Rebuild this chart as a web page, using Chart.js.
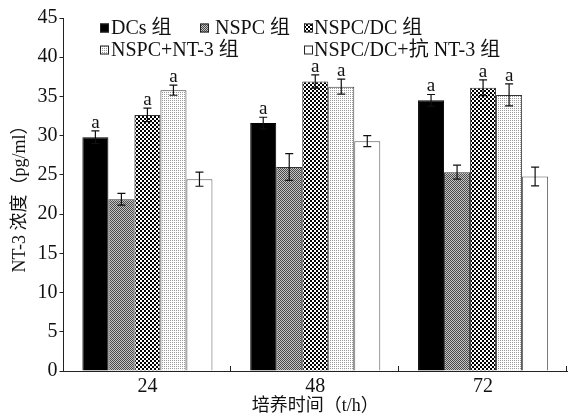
<!DOCTYPE html>
<html>
<head>
<meta charset="utf-8">
<script src="https://cdn.jsdelivr.net/npm/chart.js@4.4.0/dist/chart.umd.min.js"></script>
<style>
  html, body { margin: 0; padding: 0; background: #fff; }
  #wrap { width: 568px; height: 417px; }
</style>
</head>
<body>
<div id="wrap"><canvas id="myChart" width="568" height="417"></canvas></div>
<script>
// culture time (h)
const categories = ['24', '48', '72'];

// NT-3 concentration (pg/ml), mean and error
const dcs = [29.8, 31.6, 34.5];
const dcsErr = [0.8, 0.75, 0.75];
const nspc = [21.9, 26.0, 25.35];
const nspcErr = [0.75, 1.7, 0.9];
const nspcDc = [32.65, 36.9, 36.1];
const nspcDcErr = [0.85, 0.85, 1.0];
const nspcNt3 = [35.8, 36.25, 35.2];
const nspcNt3Err = [0.65, 0.95, 1.4];
const antiNt3 = [24.45, 29.3, 24.8];
const antiNt3Err = [0.9, 0.7, 1.2];

// significance marks above bars
const dcsMark = ['a', 'a', 'a'];
const nspcMark = ['', '', ''];
const nspcDcMark = ['a', 'a', 'a'];
const nspcNt3Mark = ['a', 'a', 'a'];
const antiNt3Mark = ['', '', ''];

const yTicks = [0, 5, 10, 15, 20, 25, 30, 35, 40, 45];

const serif = "'Liberation Serif', 'Noto Sans CJK SC', serif";

document.addEventListener('DOMContentLoaded', () => {
    const ctx = document.getElementById('myChart').getContext('2d');

    function makePattern(size, draw) {
        const c = document.createElement('canvas');
        c.width = size;
        c.height = size;
        const g = c.getContext('2d');
        draw(g);
        return ctx.createPattern(c, 'repeat');
    }

    const grayChecker = makePattern(2, g => {
        g.fillStyle = '#c4c4c4';
        g.fillRect(0, 0, 2, 2);
        g.fillStyle = '#4a4a4a';
        g.fillRect(0, 0, 1, 1);
        g.fillRect(1, 1, 1, 1);
    });
    const bwChecker = makePattern(4, g => {
        g.fillStyle = '#000';
        g.fillRect(0, 0, 4, 4);
        g.fillStyle = '#fff';
        g.fillRect(0, 0, 2, 2);
        g.fillRect(2, 2, 2, 2);
    });
    const lightDots = makePattern(2, g => {
        g.fillStyle = '#fff';
        g.fillRect(0, 0, 2, 2);
        g.fillStyle = '#999';
        g.fillRect(0, 0, 1, 1);
    });

    // error bars and "a" marks
    const errorBars = {
        id: 'errorBars',
        afterDatasetsDraw(chart) {
            const c = chart.ctx;
            const y = chart.scales.y;
            c.save();
            c.strokeStyle = '#111';
            c.lineWidth = 1.2;
            c.fillStyle = '#111';
            c.font = '19px ' + serif;
            c.textAlign = 'center';
            c.textBaseline = 'alphabetic';
            chart.data.datasets.forEach((ds, i) => {
                const meta = chart.getDatasetMeta(i);
                meta.data.forEach((bar, j) => {
                    const v = ds.data[j];
                    const e = ds.errors[j];
                    const top = y.getPixelForValue(v + e);
                    const bot = y.getPixelForValue(v - e);
                    const x = bar.x;
                    c.beginPath();
                    c.moveTo(x, top);
                    c.lineTo(x, bot);
                    c.moveTo(x - 4, top);
                    c.lineTo(x + 4, top);
                    c.moveTo(x - 4, bot);
                    c.lineTo(x + 4, bot);
                    c.stroke();
                    if (ds.marks[j]) {
                        c.fillText(ds.marks[j], x, top - 3);
                    }
                });
            });
            c.restore();
        }
    };

    // inward tick marks on the x axis between groups
    const xInnerTicks = {
        id: 'xInnerTicks',
        afterDraw(chart) {
            const x = chart.scales.x;
            const c = chart.ctx;
            const n = chart.data.labels.length;
            c.save();
            c.strokeStyle = '#222';
            c.lineWidth = 1;
            for (let i = 1; i <= n; i++) {
                const px = Math.round(x.left + i * x.width / n) - 0.5;
                c.beginPath();
                c.moveTo(px, x.top);
                c.lineTo(px, x.top - 5);
                c.stroke();
            }
            c.restore();
        }
    };

    // two-row legend inside the plot
    const legendSlots = [
        [100, 28, 11], [200, 28, 15], [304, 28, 10],
        [100, 50, 11], [304, 50, 10]
    ];
    const groupLegend = {
        id: 'groupLegend',
        afterDraw(chart) {
            const c = chart.ctx;
            c.save();
            c.font = '20px ' + serif;
            c.textBaseline = 'middle';
            c.textAlign = 'left';
            chart.data.datasets.forEach((ds, i) => {
                const [bx, by, gap] = legendSlots[i];
                c.fillStyle = ds.backgroundColor;
                c.fillRect(bx, by - 4.5, 9, 9);
                c.strokeStyle = '#222';
                c.lineWidth = 1;
                c.strokeRect(bx + 0.5, by - 4, 8, 8);
                c.fillStyle = '#111';
                c.fillText(ds.label, bx + gap, by + 1);
            });
            c.restore();
        }
    };

    const barStyle = { borderColor: '#333', borderWidth: 1, borderSkipped: 'bottom' };

    const myChart = new Chart(ctx, {
        type: 'bar',
        data: {
            labels: categories,
            datasets: [
                { label: 'DCs 组', data: dcs, errors: dcsErr, marks: dcsMark,
                  backgroundColor: '#000', ...barStyle, borderColor: '#000' },
                { label: 'NSPC 组', data: nspc, errors: nspcErr, marks: nspcMark,
                  backgroundColor: grayChecker, ...barStyle },
                { label: 'NSPC/DC 组', data: nspcDc, errors: nspcDcErr, marks: nspcDcMark,
                  backgroundColor: bwChecker, ...barStyle },
                { label: 'NSPC+NT-3 组', data: nspcNt3, errors: nspcNt3Err, marks: nspcNt3Mark,
                  backgroundColor: lightDots, ...barStyle },
                { label: 'NSPC/DC+抗 NT-3 组', data: antiNt3, errors: antiNt3Err, marks: antiNt3Mark,
                  backgroundColor: '#fff', ...barStyle, borderColor: '#555' }
            ]
        },
        options: {
            responsive: false,
            animation: false,
            maintainAspectRatio: false,
            layout: { padding: { top: 18, right: 1, left: 0, bottom: 0 } },
            datasets: { bar: { categoryPercentage: 0.775, barPercentage: 1 } },
            plugins: {
                legend: { display: false },
                tooltip: { enabled: false }
            },
            scales: {
                x: {
                    grid: { display: false, drawTicks: false },
                    border: { display: true, color: '#222', width: 1 },
                    ticks: { color: '#111', font: { family: serif, size: 20 }, padding: 4 },
                    title: {
                        display: true,
                        text: '培养时间（t/h）',
                        color: '#111',
                        font: { family: serif, size: 18 },
                        padding: { top: 0, bottom: 0 }
                    },
                    afterFit: s => { s.height = 46; }
                },
                y: {
                    min: 0,
                    max: 45,
                    afterBuildTicks: s => { s.ticks = yTicks.map(v => ({ value: v })); },
                    grid: { drawOnChartArea: false, tickLength: 4, color: '#222' },
                    border: { display: true, color: '#222', width: 1 },
                    ticks: { color: '#111', font: { family: serif, size: 20 }, padding: 2 },
                    title: {
                        display: true,
                        text: 'NT-3 浓度（pg/ml）',
                        color: '#111',
                        font: { family: serif, size: 18 },
                        padding: { top: 9, bottom: 0 }
                    },
                    afterFit: s => { s.width = 63.5; }
                }
            }
        },
        plugins: [errorBars, xInnerTicks, groupLegend]
    });
});
</script>
</body>
</html>
